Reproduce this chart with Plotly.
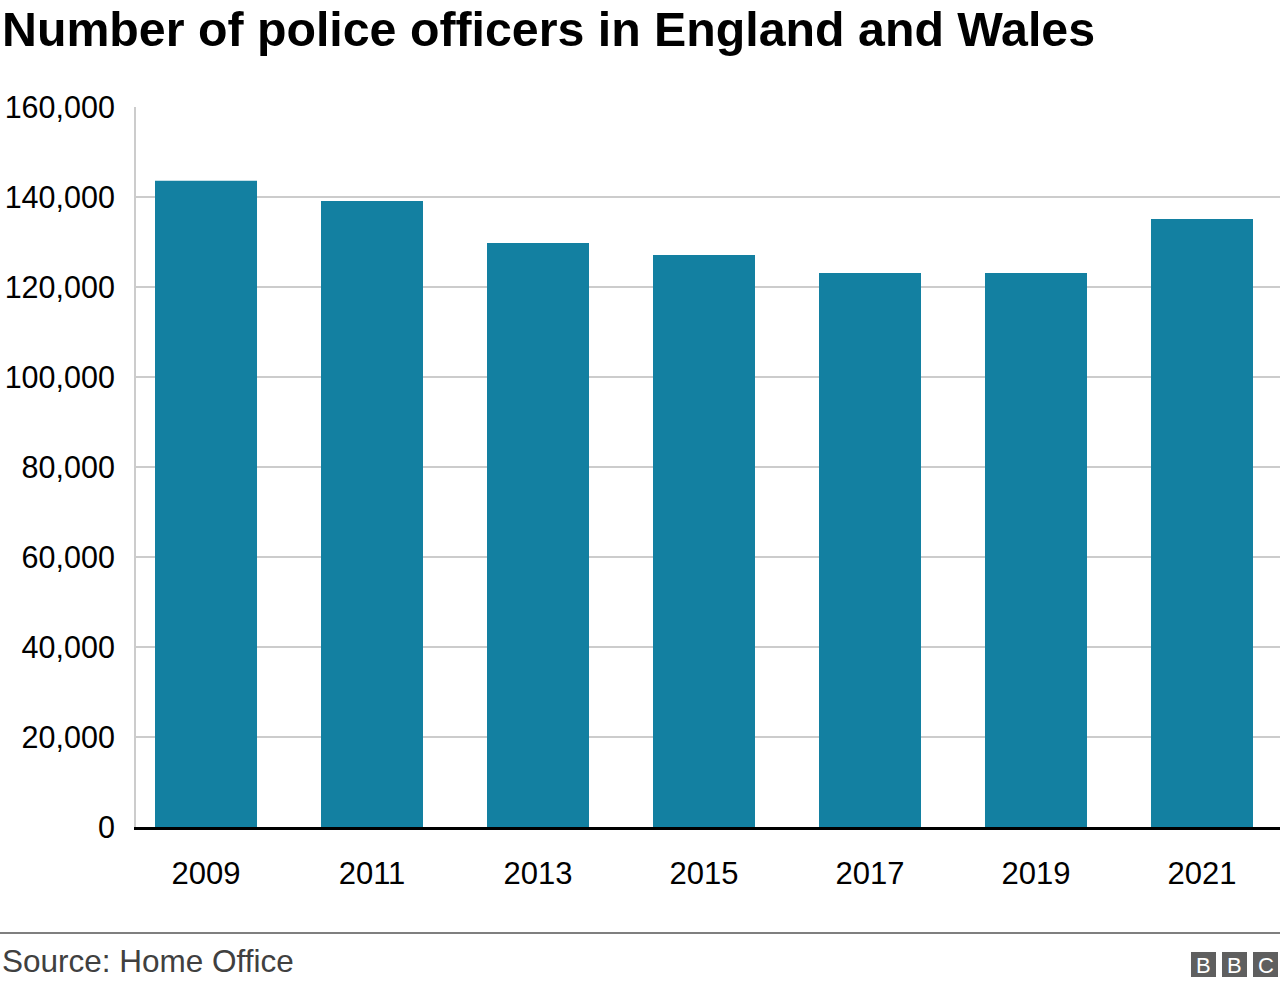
import plotly.graph_objects as go

years = ["2009", "2011", "2013", "2015", "2017", "2019", "2021"]
officers = [143600, 139100, 129800, 127100, 123100, 123100, 135100]

title_text = "Number of police officers in England and Wales"
source_text = "Source: Home Office"

BAR_COLOR = "#1380A1"
FONT = "Liberation Sans, Arial, Helvetica, sans-serif"

W, H = 1280, 988
L, R, T, B = 136, 0, 107, 161
PW, PH = W - L - R, H - T - B


def px_x(px):
    return (px - L) / PW


def px_y(py):
    return (H - B - py) / PH


fig = go.Figure(
    go.Bar(
        x=years,
        y=officers,
        marker=dict(color=BAR_COLOR, line=dict(width=0)),
        hoverinfo="x+y",
    )
)

shapes = [
    # footer rule
    dict(type="line", xref="paper", yref="paper",
         x0=px_x(0), x1=px_x(1280), y0=px_y(933), y1=px_y(933),
         line=dict(color="#7f7f7f", width=2)),
]
annotations = [
    dict(text=source_text, xref="paper", yref="paper", x=px_x(0), y=px_y(961),
         xanchor="left", yanchor="middle", showarrow=False,
         font=dict(family=FONT, size=31.5, color="#404040")),
]
# BBC logo blocks
for i, letter in enumerate(["B", "B", "C"]):
    x0 = 1191 + i * 31
    shapes.append(dict(type="rect", xref="paper", yref="paper",
                       x0=px_x(x0), x1=px_x(x0 + 25), y0=px_y(977), y1=px_y(952),
                       fillcolor="#5f5f5f", line=dict(width=0)))
    annotations.append(dict(text=letter, xref="paper", yref="paper",
                            x=px_x(x0 + 12.5), y=px_y(965), xanchor="center",
                            yanchor="middle", showarrow=False,
                            font=dict(family=FONT, size=22, color="white")))

fig.update_layout(
    width=W,
    height=H,
    margin=dict(l=L, r=R, t=T, b=B, pad=0),
    paper_bgcolor="white",
    plot_bgcolor="white",
    bargap=0.3855,
    showlegend=False,
    font=dict(family=FONT, color="#222222"),
    title=dict(text="<b>" + title_text + "</b>", xref="container", yref="container",
               x=0.0, xanchor="left", y=1 - 29 / H, yanchor="middle",
               font=dict(family=FONT, size=48.3, color="#000000"), pad=dict(l=2)),
    xaxis=dict(
        type="category",
        range=[-0.4217, 6.4699],
        showgrid=False,
        showline=True,
        linecolor="#000000",
        linewidth=3,
        ticks="outside",
        ticklen=0,
        tickfont=dict(family=FONT, size=31, color="#000000"),
        ticklabelstandoff=17,
        fixedrange=True,
    ),
    yaxis=dict(
        range=[0, 160000],
        tick0=0,
        dtick=20000,
        tickformat=",",
        showgrid=True,
        gridcolor="#cccccc",
        gridwidth=2,
        zeroline=False,
        showline=True,
        linecolor="#cccccc",
        linewidth=2,
        ticks="",
        tickfont=dict(family=FONT, size=30.5, color="#000000"),
        ticklabelstandoff=13,
        fixedrange=True,
    ),
    shapes=shapes,
    annotations=annotations,
)

fig.write_html(
    "out.html",
    config={"displayModeBar": False},
    post_script="document.body.style.margin='0';document.body.style.padding='0';",
)
